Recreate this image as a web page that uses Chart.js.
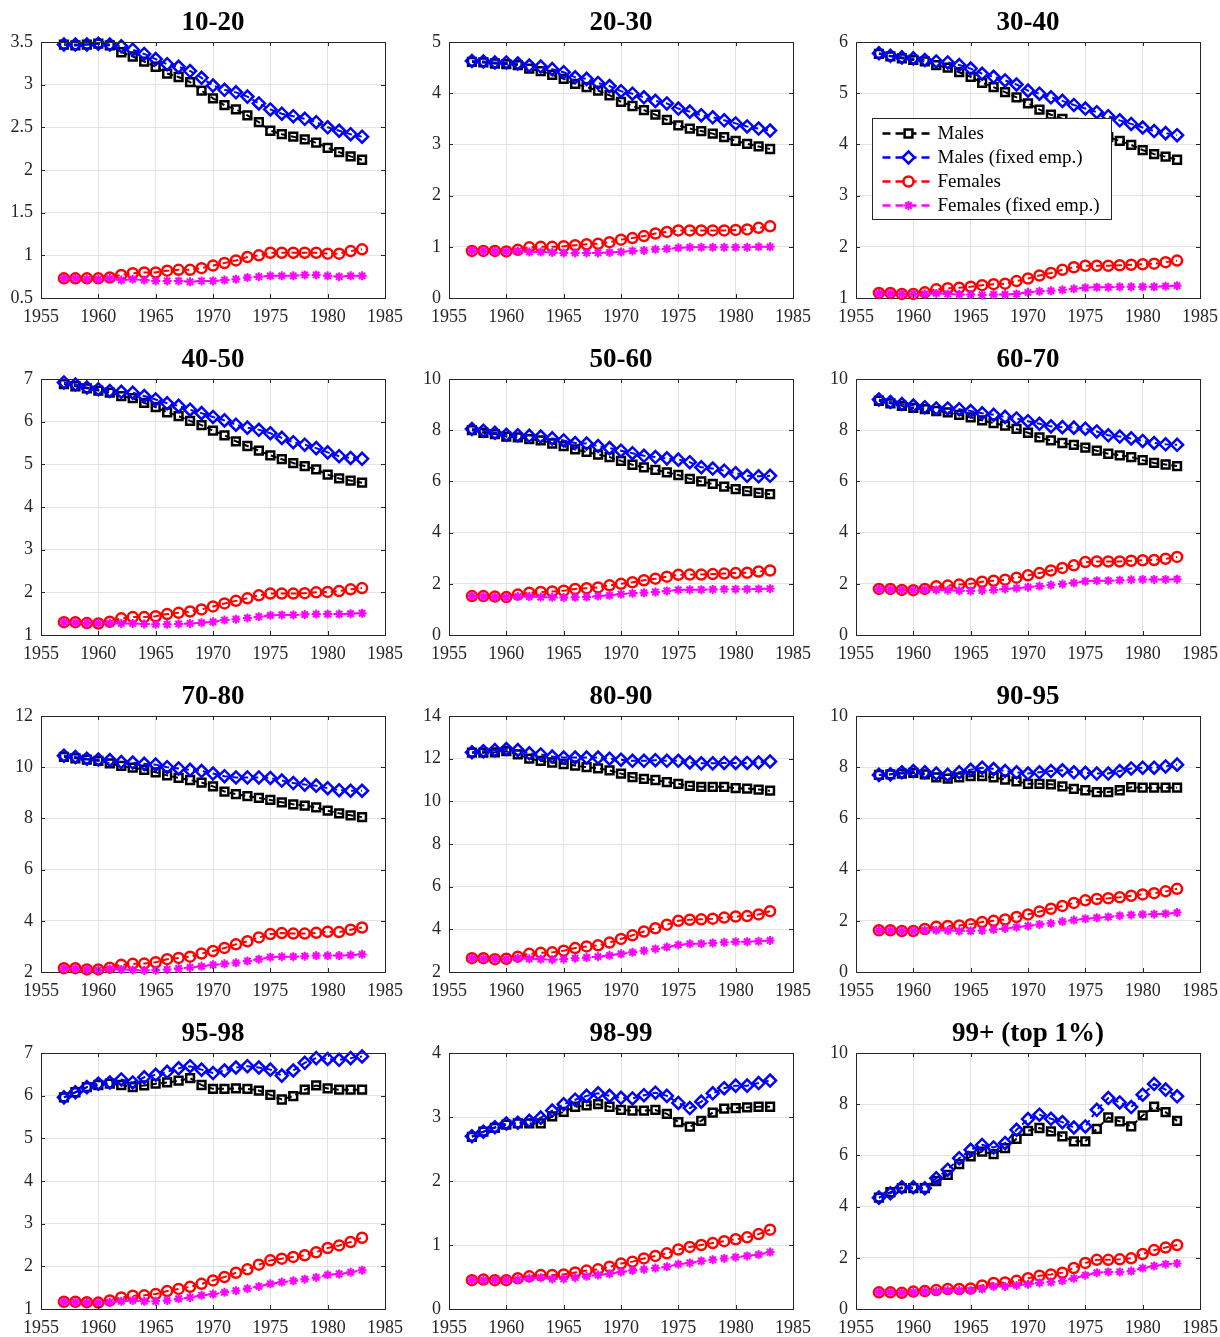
<!DOCTYPE html>
<html>
<head>
<meta charset="utf-8">
<script src="https://cdn.jsdelivr.net/npm/chart.js@4.4.1/dist/chart.umd.min.js"></script>
<style>
html, body { margin:0; padding:0; background:#fff; width:1220px; height:1337px; overflow:hidden; }
canvas { position:absolute; }
</style>
</head>
<body>
<script>
// Años y paneles
const years = [1957,1958,1959,1960,1961,1962,1963,1964,1965,1966,1967,1968,1969,1970,1971,1972,1973,1974,1975,1976,1977,1978,1979,1980,1981,1982,1983];
const titles = ['10-20','20-30','30-40','40-50','50-60','60-70','70-80','80-90','90-95','95-98','98-99','99+ (top 1%)'];
const yMins  = [0.5, 0, 1, 1, 0, 0, 2, 2, 0, 1, 0, 0];
const yMaxs  = [3.5, 5, 6, 7, 10, 10, 12, 14, 10, 7, 4, 10];
const ySteps = [0.5, 1, 1, 1, 2, 2, 2, 2, 2, 1, 1, 2];
const seriesLabels = ['Males','Males (fixed emp.)','Females','Females (fixed emp.)'];

// 10-20
const m_10_20  = [3.47,3.46,3.47,3.48,3.46,3.38,3.33,3.27,3.21,3.13,3.09,3.03,2.93,2.84,2.76,2.71,2.64,2.56,2.46,2.42,2.39,2.36,2.32,2.26,2.21,2.16,2.12];
const mf_10_20 = [3.47,3.47,3.47,3.48,3.47,3.45,3.41,3.36,3.30,3.24,3.21,3.16,3.08,2.99,2.94,2.91,2.86,2.78,2.71,2.66,2.63,2.60,2.56,2.50,2.46,2.42,2.39];
const f_10_20  = [0.73,0.73,0.73,0.73,0.74,0.77,0.79,0.80,0.80,0.82,0.83,0.83,0.85,0.88,0.91,0.94,0.98,1.00,1.03,1.03,1.03,1.03,1.03,1.02,1.02,1.05,1.07];
const ff_10_20 = [0.73,0.73,0.72,0.72,0.73,0.71,0.72,0.71,0.70,0.70,0.70,0.69,0.70,0.70,0.71,0.72,0.74,0.75,0.76,0.76,0.76,0.77,0.77,0.76,0.75,0.76,0.76];
// 20-30
const m_20_30  = [4.61,4.60,4.58,4.57,4.55,4.48,4.43,4.36,4.28,4.18,4.12,4.05,3.96,3.83,3.75,3.67,3.58,3.48,3.37,3.31,3.26,3.21,3.14,3.07,3.01,2.96,2.91];
const mf_20_30 = [4.63,4.62,4.60,4.60,4.58,4.54,4.52,4.47,4.41,4.31,4.28,4.20,4.14,4.04,3.99,3.92,3.85,3.80,3.70,3.64,3.57,3.53,3.47,3.41,3.35,3.31,3.27];
const f_20_30  = [0.92,0.92,0.92,0.91,0.94,0.99,1.00,1.00,1.01,1.03,1.05,1.06,1.09,1.14,1.17,1.21,1.26,1.29,1.32,1.32,1.32,1.32,1.32,1.33,1.34,1.37,1.40];
const ff_20_30 = [0.92,0.92,0.91,0.91,0.92,0.90,0.90,0.89,0.88,0.88,0.88,0.88,0.89,0.90,0.92,0.93,0.95,0.96,0.98,0.99,0.99,0.99,0.99,0.99,0.99,1.00,1.00];
// 30-40
const m_30_40  = [5.77,5.72,5.68,5.65,5.62,5.55,5.50,5.41,5.32,5.20,5.12,5.02,4.92,4.80,4.68,4.58,4.50,4.42,4.35,4.25,4.14,4.07,3.99,3.89,3.81,3.76,3.70];
const mf_30_40 = [5.78,5.73,5.70,5.68,5.65,5.62,5.60,5.55,5.48,5.38,5.32,5.25,5.17,5.05,4.99,4.92,4.85,4.77,4.70,4.63,4.55,4.47,4.40,4.33,4.26,4.22,4.18];
const f_30_40  = [1.10,1.10,1.08,1.08,1.11,1.17,1.19,1.20,1.22,1.25,1.27,1.28,1.33,1.38,1.44,1.49,1.55,1.60,1.63,1.63,1.63,1.64,1.65,1.66,1.67,1.70,1.73];
const ff_30_40 = [1.09,1.09,1.08,1.08,1.08,1.09,1.08,1.07,1.07,1.06,1.07,1.07,1.08,1.11,1.13,1.14,1.16,1.18,1.20,1.21,1.21,1.22,1.22,1.22,1.22,1.23,1.24];
// 40-50
const m_40_50  = [6.88,6.83,6.78,6.73,6.68,6.60,6.55,6.44,6.34,6.22,6.13,6.02,5.92,5.79,5.68,5.54,5.43,5.32,5.21,5.12,5.03,4.96,4.88,4.76,4.67,4.62,4.57];
const mf_40_50 = [6.92,6.87,6.80,6.76,6.72,6.70,6.68,6.60,6.52,6.43,6.37,6.28,6.20,6.11,6.03,5.93,5.86,5.81,5.73,5.62,5.52,5.46,5.38,5.28,5.19,5.15,5.13];
const f_40_50  = [1.30,1.30,1.28,1.27,1.31,1.39,1.42,1.42,1.44,1.49,1.52,1.55,1.60,1.67,1.74,1.80,1.86,1.93,1.97,1.97,1.97,1.98,2.00,2.01,2.03,2.07,2.10];
const ff_40_50 = [1.30,1.29,1.28,1.27,1.28,1.27,1.27,1.26,1.25,1.25,1.26,1.27,1.29,1.31,1.35,1.37,1.40,1.43,1.46,1.47,1.47,1.48,1.49,1.49,1.49,1.50,1.51];
// 50-60
const m_50_60  = [8.00,7.90,7.85,7.75,7.72,7.65,7.60,7.48,7.38,7.25,7.15,7.05,6.95,6.80,6.65,6.55,6.45,6.35,6.25,6.10,6.00,5.90,5.80,5.70,5.62,5.55,5.50];
const mf_50_60 = [8.05,7.98,7.90,7.82,7.80,7.78,7.75,7.68,7.60,7.50,7.48,7.38,7.30,7.20,7.10,7.00,6.95,6.90,6.85,6.75,6.55,6.50,6.42,6.32,6.22,6.20,6.22];
const f_50_60  = [1.52,1.52,1.50,1.48,1.58,1.65,1.68,1.70,1.73,1.80,1.83,1.86,1.94,2.00,2.06,2.14,2.20,2.28,2.35,2.36,2.36,2.38,2.40,2.42,2.43,2.48,2.52];
const ff_50_60 = [1.52,1.50,1.48,1.47,1.50,1.50,1.48,1.47,1.46,1.47,1.48,1.52,1.55,1.60,1.63,1.65,1.68,1.72,1.76,1.77,1.77,1.78,1.79,1.79,1.79,1.80,1.81];
// 60-70
const m_60_70  = [9.15,9.05,8.95,8.87,8.82,8.75,8.70,8.60,8.50,8.38,8.28,8.18,8.05,7.90,7.72,7.60,7.50,7.43,7.32,7.20,7.08,7.02,6.95,6.83,6.72,6.66,6.60];
const mf_60_70 = [9.20,9.10,9.02,8.96,8.90,8.85,8.85,8.82,8.75,8.66,8.60,8.52,8.46,8.35,8.25,8.15,8.12,8.10,8.06,7.95,7.80,7.75,7.68,7.58,7.50,7.45,7.43];
const f_60_70  = [1.80,1.80,1.76,1.75,1.80,1.90,1.93,1.97,2.00,2.08,2.12,2.16,2.24,2.33,2.42,2.52,2.62,2.72,2.85,2.87,2.87,2.87,2.90,2.92,2.93,2.98,3.05];
const ff_60_70 = [1.79,1.78,1.76,1.75,1.77,1.76,1.75,1.73,1.72,1.74,1.76,1.80,1.83,1.87,1.91,1.95,1.99,2.04,2.10,2.12,2.12,2.14,2.16,2.17,2.17,2.17,2.18];
// 70-80
const m_70_80  = [10.40,10.35,10.30,10.25,10.15,10.05,9.98,9.90,9.80,9.68,9.58,9.50,9.40,9.25,9.05,8.95,8.87,8.80,8.72,8.63,8.55,8.50,8.43,8.30,8.20,8.12,8.05];
const mf_70_80 = [10.45,10.40,10.33,10.30,10.28,10.20,10.18,10.13,10.10,10.00,9.95,9.90,9.85,9.75,9.65,9.60,9.60,9.60,9.58,9.48,9.38,9.32,9.28,9.18,9.10,9.08,9.08];
const f_70_80  = [2.15,2.15,2.10,2.10,2.17,2.28,2.32,2.33,2.38,2.50,2.55,2.60,2.72,2.82,2.94,3.08,3.20,3.35,3.48,3.52,3.50,3.50,3.53,3.57,3.56,3.65,3.74];
const ff_70_80 = [2.14,2.13,2.10,2.08,2.12,2.10,2.08,2.06,2.07,2.10,2.14,2.18,2.22,2.28,2.32,2.36,2.43,2.50,2.58,2.60,2.60,2.62,2.64,2.64,2.64,2.66,2.69];
// 80-90
const m_80_90  = [12.28,12.28,12.30,12.35,12.20,12.00,11.90,11.82,11.75,11.68,11.60,11.55,11.45,11.30,11.13,11.05,11.00,10.90,10.82,10.72,10.68,10.68,10.68,10.62,10.60,10.55,10.50];
const mf_80_90 = [12.30,12.35,12.40,12.45,12.40,12.25,12.20,12.10,12.05,12.05,12.05,12.05,12.00,11.95,11.90,11.90,11.93,11.90,11.90,11.82,11.78,11.78,11.80,11.80,11.80,11.82,11.87];
const f_80_90  = [2.65,2.65,2.60,2.62,2.72,2.85,2.90,2.92,3.00,3.12,3.20,3.25,3.38,3.55,3.72,3.90,4.05,4.22,4.40,4.45,4.47,4.50,4.55,4.60,4.62,4.70,4.85];
const ff_80_90 = [2.63,2.62,2.60,2.60,2.65,2.62,2.60,2.58,2.60,2.65,2.68,2.72,2.78,2.85,2.92,3.00,3.08,3.17,3.27,3.32,3.33,3.36,3.39,3.42,3.42,3.44,3.48];
// 90-95
const m_90_95  = [7.70,7.72,7.75,7.78,7.72,7.60,7.55,7.60,7.65,7.65,7.60,7.52,7.45,7.35,7.35,7.33,7.25,7.15,7.10,7.03,7.03,7.10,7.22,7.20,7.20,7.20,7.20];
const mf_90_95 = [7.70,7.72,7.80,7.85,7.80,7.75,7.70,7.80,7.90,7.98,7.93,7.85,7.80,7.75,7.80,7.85,7.88,7.80,7.78,7.75,7.75,7.85,7.95,7.98,7.98,8.03,8.10];
const f_90_95  = [1.63,1.63,1.60,1.60,1.68,1.77,1.80,1.82,1.87,1.95,2.00,2.05,2.15,2.25,2.36,2.47,2.58,2.70,2.80,2.85,2.88,2.92,2.98,3.03,3.08,3.15,3.25];
const ff_90_95 = [1.62,1.62,1.60,1.60,1.63,1.63,1.62,1.60,1.60,1.62,1.66,1.70,1.75,1.80,1.86,1.90,1.97,2.03,2.08,2.12,2.15,2.20,2.23,2.25,2.26,2.28,2.32];
// 95-98
const m_95_98  = [5.96,6.08,6.20,6.25,6.28,6.25,6.20,6.24,6.28,6.31,6.35,6.41,6.25,6.16,6.16,6.17,6.16,6.12,6.02,5.91,5.99,6.14,6.24,6.17,6.14,6.14,6.14];
const mf_95_98 = [5.96,6.08,6.20,6.28,6.31,6.38,6.31,6.43,6.49,6.56,6.64,6.69,6.61,6.53,6.59,6.66,6.69,6.66,6.61,6.47,6.59,6.77,6.88,6.86,6.84,6.88,6.92];
const f_95_98  = [1.17,1.17,1.16,1.15,1.20,1.27,1.31,1.32,1.35,1.42,1.47,1.52,1.59,1.67,1.75,1.85,1.93,2.04,2.14,2.18,2.22,2.26,2.33,2.43,2.49,2.57,2.67];
const ff_95_98 = [1.17,1.16,1.15,1.15,1.16,1.18,1.20,1.18,1.18,1.20,1.24,1.27,1.32,1.35,1.39,1.43,1.48,1.53,1.59,1.63,1.66,1.70,1.74,1.80,1.82,1.86,1.91];
// 98-99
const m_98_99  = [2.69,2.77,2.83,2.88,2.90,2.90,2.90,3.01,3.08,3.16,3.18,3.20,3.16,3.11,3.10,3.10,3.11,3.05,2.92,2.85,2.94,3.07,3.13,3.14,3.15,3.16,3.16];
const mf_98_99 = [2.70,2.77,2.84,2.90,2.91,2.94,2.99,3.10,3.20,3.27,3.33,3.37,3.33,3.30,3.29,3.34,3.38,3.33,3.22,3.14,3.24,3.37,3.45,3.49,3.49,3.53,3.57];
const f_98_99  = [0.45,0.46,0.45,0.45,0.48,0.51,0.53,0.53,0.54,0.57,0.60,0.62,0.66,0.71,0.74,0.79,0.83,0.87,0.93,0.97,1.00,1.03,1.06,1.09,1.12,1.17,1.24];
const ff_98_99 = [0.45,0.45,0.45,0.45,0.46,0.48,0.49,0.47,0.47,0.49,0.51,0.53,0.55,0.58,0.60,0.62,0.64,0.66,0.70,0.72,0.75,0.77,0.79,0.81,0.83,0.85,0.89];
// 99+
const m_99p  = [4.35,4.56,4.72,4.72,4.72,5.00,5.24,5.66,5.96,6.15,6.05,6.28,6.65,6.96,7.07,6.94,6.74,6.55,6.55,7.04,7.48,7.33,7.13,7.56,7.90,7.69,7.35];
const mf_99p = [4.35,4.52,4.76,4.76,4.72,5.11,5.44,5.89,6.22,6.41,6.31,6.48,7.00,7.42,7.59,7.43,7.30,7.09,7.13,7.78,8.24,8.07,7.89,8.37,8.79,8.57,8.31];
const f_99p  = [0.65,0.65,0.63,0.68,0.70,0.74,0.78,0.78,0.80,0.92,1.02,1.04,1.10,1.20,1.30,1.35,1.42,1.60,1.80,1.92,1.92,1.94,1.98,2.15,2.30,2.40,2.50];
const ff_99p = [0.65,0.65,0.63,0.65,0.68,0.68,0.72,0.72,0.72,0.78,0.88,0.88,0.92,0.97,1.02,1.05,1.10,1.20,1.32,1.42,1.45,1.45,1.48,1.60,1.68,1.75,1.78];

const panelData = [
  [m_10_20, mf_10_20, f_10_20, ff_10_20],
  [m_20_30, mf_20_30, f_20_30, ff_20_30],
  [m_30_40, mf_30_40, f_30_40, ff_30_40],
  [m_40_50, mf_40_50, f_40_50, ff_40_50],
  [m_50_60, mf_50_60, f_50_60, ff_50_60],
  [m_60_70, mf_60_70, f_60_70, ff_60_70],
  [m_70_80, mf_70_80, f_70_80, ff_70_80],
  [m_80_90, mf_80_90, f_80_90, ff_80_90],
  [m_90_95, mf_90_95, f_90_95, ff_90_95],
  [m_95_98, mf_95_98, f_95_98, ff_95_98],
  [m_98_99, mf_98_99, f_98_99, ff_98_99],
  [m_99p, mf_99p, f_99p, ff_99p]
];

// Estilos
const SERIF = "'Liberation Serif', 'DejaVu Serif', serif";
const AXIS_COLOR = '#262626';
const styles = [
  {color:'#000000', point:'rect',    radius:5.5, bw:2.5},
  {color:'#0000ff', point:'rectRot', radius:6,   bw:2.5},
  {color:'#ff0000', point:'circle',  radius:5,   bw:2.5},
  {color:'#ff00ff', point:'star',    radius:4.5, bw:2}
];

// Geometría
const PLOT_W = 346, PLOT_H = 256, AXIS_W = 41, TITLE_H = 32, XAXIS_H = 30, PAD_R = 24;
const colLeft = [41, 449, 856];
const rowTop  = [42, 379, 716, 1053];

// Caja MATLAB + ticks hacia adentro
const boxPlugin = {
  id:'matBox',
  afterDatasetsDraw(chart){
    const {ctx, chartArea:a, scales:{x, y}} = chart;
    const px = v => Math.round(v) + 0.5;
    ctx.save();
    ctx.strokeStyle = AXIS_COLOR; ctx.lineWidth = 1;
    ctx.beginPath();
    ctx.moveTo(px(a.left), px(a.top)); ctx.lineTo(px(a.right), px(a.top));
    ctx.lineTo(px(a.right), px(a.bottom));
    for (const t of x.ticks){
      const p = px(x.getPixelForValue(t.value));
      ctx.moveTo(p, a.bottom); ctx.lineTo(p, a.bottom - 4);
      ctx.moveTo(p, a.top); ctx.lineTo(p, a.top + 4);
    }
    for (const t of y.ticks){
      const p = px(y.getPixelForValue(t.value));
      ctx.moveTo(a.left, p); ctx.lineTo(a.left + 4, p);
      ctx.moveTo(a.right, p); ctx.lineTo(a.right - 4, p);
    }
    ctx.stroke();
    ctx.restore();
  }
};

// Leyenda dentro del panel 30-40
const legendPlugin = {
  id:'inLegend',
  afterDraw(chart){
    const {ctx, chartArea:a} = chart;
    const bx = Math.round(a.left + 16) + 0.5, by = Math.round(a.top + 76) + 0.5;
    const bw = 239, bh = 101;
    ctx.save();
    ctx.fillStyle = '#ffffff'; ctx.fillRect(bx, by, bw, bh);
    ctx.strokeStyle = AXIS_COLOR; ctx.lineWidth = 1; ctx.strokeRect(bx, by, bw, bh);
    chart.data.datasets.forEach((ds, i) => {
      const cy = by + 15 + 24*i;
      ctx.save();
      ctx.strokeStyle = ds.borderColor; ctx.lineWidth = 2.5; ctx.setLineDash([8,5]);
      ctx.beginPath(); ctx.moveTo(bx + 10, cy); ctx.lineTo(bx + 62, cy); ctx.stroke();
      ctx.restore();
      ctx.save();
      ctx.strokeStyle = ds.pointBorderColor; ctx.fillStyle = '#ffffff'; ctx.lineWidth = ds.pointBorderWidth;
      Chart.helpers.drawPoint(ctx, {pointStyle: ds.pointStyle, radius: ds.pointRadius, rotation: 0, borderWidth: ds.pointBorderWidth}, bx + 36, cy);
      ctx.restore();
      ctx.fillStyle = '#000'; ctx.font = `19px ${SERIF}`; ctx.textBaseline = 'middle'; ctx.textAlign = 'left';
      ctx.fillText(ds.label, bx + 65, cy + 1);
    });
    ctx.restore();
  }
};

function renderPanel(idx){
  const col = idx % 3, row = Math.floor(idx / 3);
  const cv = document.createElement('canvas');
  cv.width = AXIS_W + PLOT_W + PAD_R;
  cv.height = TITLE_H + PLOT_H + XAXIS_H;
  cv.style.left = (colLeft[col] - AXIS_W) + 'px';
  cv.style.top = (rowTop[row] - TITLE_H) + 'px';
  document.body.appendChild(cv);

  const datasets = panelData[idx].map((vals, i) => ({
    label: seriesLabels[i],
    data: years.map((yr, k) => ({x: yr, y: vals[k]})),
    borderColor: styles[i].color,
    borderWidth: 2,
    borderDash: [6, 4],
    pointStyle: styles[i].point,
    pointRadius: styles[i].radius,
    pointBorderWidth: styles[i].bw,
    pointBorderColor: styles[i].color,
    pointBackgroundColor: 'rgba(0,0,0,0)',
    tension: 0,
    clip: false,
    order: 3 - i
  }));

  const tickFont = {family: SERIF, size: 18};
  new Chart(cv.getContext('2d'), {
    type: 'line',
    data: { datasets },
    options: {
      responsive: false, animation: false,
      layout: { padding: {left: 0, right: PAD_R, top: 0, bottom: 0} },
      plugins: {
        legend: {display: false}, tooltip: {enabled: false},
        title: { display: true, fullSize: false, text: titles[idx], color: '#000',
          font: {family: SERIF, size: 27, weight: 'bold', lineHeight: 1},
          padding: {top: 0, bottom: 5} }
      },
      scales: {
        x: { type: 'linear', min: 1955, max: 1985,
          ticks: { stepSize: 5, callback: v => String(v), font: tickFont, color: AXIS_COLOR, padding: 8, maxRotation: 0, autoSkip: false },
          grid: { color: '#e3e3e3', drawTicks: false },
          border: { color: AXIS_COLOR, width: 1 },
          afterFit: s => { s.height = XAXIS_H; } },
        y: { type: 'linear', min: yMins[idx], max: yMaxs[idx],
          ticks: { stepSize: ySteps[idx], callback: v => String(v), font: tickFont, color: AXIS_COLOR, padding: 8 },
          grid: { color: '#e3e3e3', drawTicks: false },
          border: { color: AXIS_COLOR, width: 1 },
          afterFit: s => { s.width = AXIS_W; } }
      }
    },
    plugins: idx === 2 ? [boxPlugin, legendPlugin] : [boxPlugin]
  });
}

for (let i = 0; i < titles.length; i++) renderPanel(i);
</script>
</body>
</html>
